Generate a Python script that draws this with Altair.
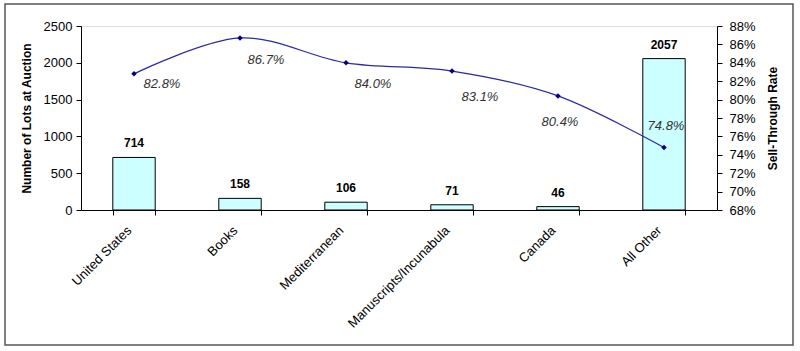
import altair as alt
import pandas as pd

categories = ["United States", "Books", "Mediterranean", "Manuscripts/Incunabula", "Canada", "All Other"]
lots = [714, 158, 106, 71, 46, 2057]
rates = [0.828, 0.867, 0.840, 0.831, 0.804, 0.748]
left_ticks = [0, 500, 1000, 1500, 2000, 2500]
right_ticks = [0.68, 0.70, 0.72, 0.74, 0.76, 0.78, 0.80, 0.82, 0.84, 0.86, 0.88]

df = pd.DataFrame({"cat": categories, "lots": lots, "rate": rates})
FONT = "Liberation Sans"

# label placement offsets (styling) for each rate label
label_offsets = {
    "United States": (28, 10),
    "Books": (26, 22),
    "Mediterranean": (27, 21),
    "Manuscripts/Incunabula": (28, 26),
    "Canada": (2, 26),
    "All Other": (2, -21),
}

x = alt.X("cat:N", sort=categories, title=None,
          scale=alt.Scale(paddingInner=0.6, paddingOuter=0.3),
          axis=alt.Axis(labelAngle=-45, labelAlign="right", labelBaseline="middle",
                        labelPadding=13, labelOffset=-5, tickBand="extent",
                        domainColor="black", tickColor="black", tickSize=5,
                        labelColor="black", labelFont=FONT, labelFontSize=13))

yl = alt.Y("lots:Q", title="Number of Lots at Auction",
           scale=alt.Scale(domain=[0, 2500], nice=False),
           axis=alt.Axis(orient="left", values=left_ticks, format="d", grid=False,
                         domainColor="black", tickColor="black", tickSize=5, labelPadding=4,
                         labelColor="black", labelFont=FONT, labelFontSize=13,
                         titleFont=FONT, titleFontSize=12, titleFontWeight="bold",
                         titleColor="black", titlePadding=10))

yr = alt.Y("rate:Q", title="Sell-Through Rate",
           scale=alt.Scale(domain=[0.68, 0.88], nice=False, zero=False),
           axis=alt.Axis(orient="right", values=right_ticks, format=".0%",
                         grid=False, domainColor="black", tickColor="black", tickSize=5,
                         labelPadding=7,
                         labelColor="black", labelFont=FONT, labelFontSize=13,
                         titleFont=FONT, titleFontSize=12, titleFontWeight="bold",
                         titleColor="black", titlePadding=24, titleAngle=-90))

base = alt.Chart(df)

bars = base.mark_bar(color="#ccffff", stroke="black", strokeWidth=1).encode(x=x, y=yl)
bar_text = base.mark_text(font=FONT, fontSize=12, fontWeight="bold", dy=-14, color="black").encode(
    x=x, y=yl, text="lots:Q")

border = alt.Chart(pd.DataFrame({"a": [0]})).mark_rect(
    fill=None, stroke="#555555", strokeWidth=1.5, clip=False).encode(
    x=alt.value(-76), x2=alt.value(712), y=alt.value(-22), y2=alt.value(319))

left = alt.layer(bars, bar_text, border)

line = base.mark_line(color="#2a2aa0", strokeWidth=1.2, interpolate="cardinal").encode(x=x, y=yr)
pts = base.mark_point(shape="diamond", filled=True, color="#000080", size=30, opacity=1).encode(x=x, y=yr)

pt_texts = [
    base.transform_filter(alt.datum.cat == c).mark_text(
        font=FONT, fontSize=13, fontStyle="italic", color="#333333", dx=dx, dy=dy
    ).encode(x=x, y=yr, text=alt.Text("rate:Q", format=".1%"))
    for c, (dx, dy) in label_offsets.items()
]

right = alt.layer(line, pts, *pt_texts)

chart = alt.layer(left, right).resolve_scale(y="independent").properties(
    width=636, height=184,
    autosize=alt.AutoSizeParams(type="none"),
    padding={"left": 81, "top": 26, "right": 83, "bottom": 141},
).configure_view(stroke=None).configure(background="white")

chart.save("out.html", embed_options={"renderer": "svg", "actions": False})
